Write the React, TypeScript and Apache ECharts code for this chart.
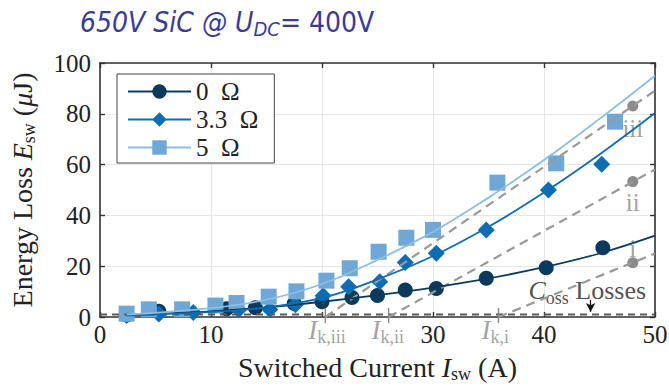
import React, { useEffect, useRef } from 'react';
import * as echarts from 'echarts';

// ---- data ----
const hiddenXTick = 20;

const current0 = [2.4, 5.3, 11.4, 14.0, 17.5, 20.0, 22.7, 25.0, 27.5, 30.3, 34.8, 40.2, 45.3];
const energy0 = [0.8, 2.3, 3.2, 3.6, 5.3, 6.0, 7.7, 8.5, 10.6, 11.2, 15.3, 19.4, 27.3];

const current33 = [2.4, 5.3, 8.4, 12.5, 15.3, 17.6, 20.1, 22.4, 25.2, 27.5, 30.3, 34.8, 40.4, 45.2];
const energy33 = [0.6, 1.2, 1.8, 2.9, 3.0, 4.8, 8.4, 11.9, 13.9, 21.5, 25.1, 34.3, 50.0, 60.1];

const current5 = [2.4, 4.4, 7.4, 10.4, 12.3, 15.2, 17.7, 20.4, 22.5, 25.1, 27.6, 30.0, 35.8, 41.1, 46.4];
const energy5 = [1.3, 3.0, 3.0, 4.5, 5.5, 8.0, 10.1, 14.3, 19.2, 25.7, 31.2, 34.3, 52.9, 60.5, 76.9];

const fitCurrent = [2.4, 10, 15, 20, 25, 30, 35, 40, 45, 50];
const fit0 = [0.8, 2.2, 3.8, 6.0, 8.6, 11.6, 15.2, 19.6, 25.0, 32.0];
const fit33 = [0.6, 2.0, 3.8, 7.5, 14.8, 24.0, 35.5, 49.0, 64.0, 80.3];
const fit5 = [1.0, 3.5, 6.8, 13.0, 22.5, 33.5, 47.0, 61.8, 78.0, 95.0];

const seriesNames = ['0 Ω', '3.3 Ω', '5 Ω'];

const kneeNames = ['i', 'ii', 'iii'];
const kneeSubs = ['k,i', 'k,ii', 'k,iii'];
const kneeCurrents = [35.9, 26.0, 20.3];
const tangentEndCurrent = 50;
const tangentEndEnergy = [25.0, 58.1, 89.1];
const dotCurrent = 48;
const dotEnergy = [21.4, 53.3, 83.1];
const romanLabelEnergy = [26.8, 45.0, 74.4];

const cossLevel = 1.0;
const cossLabelPos = [38.6, 10.6];
const arrowCurrent = 44.2;
const arrowFrom = 6.7;
const arrowTo = 2.0;

// ---- styles ----
const SERIF = '"Liberation Serif", "Times New Roman", serif';
const SANS = '"Liberation Sans Narrow", "DejaVu Sans Condensed", sans-serif';
const C0 = '#0b3a5c';
const C33 = '#0d6db3';
const C5L = '#8dbee6';
const C5M = '#6fa7d6';
const GRAY = '#999999';
const axisColor = '#333333';
const TITLE = '#3a3a98';

const pairs = (xs: number[], ys: number[]) => xs.map((x, i) => [x, ys[i]]);

function buildOption(): any {
  const axisCommon = {
    type: 'value',
    axisLine: { show: true, onZero: false, lineStyle: { color: axisColor, width: 1.6 } },
    axisTick: { show: true, inside: true, length: 5, lineStyle: { color: axisColor, width: 1.4 } },
  };
  const nameRich = {
    n: { fontFamily: SERIF, fontSize: 28, color: '#222' },
    i: { fontFamily: SERIF, fontStyle: 'italic', fontSize: 28, color: '#222' },
    s: { fontFamily: SERIF, fontSize: 18, color: '#222', padding: [13, 0, 0, 0] },
  };
  const series: any[] = [];

  series.push({
    type: 'line', name: 'coss', data: [[0, cossLevel], [50, cossLevel]], symbol: 'none', silent: true,
    lineStyle: { color: '#5a5a5a', width: 2, type: [7, 5] },
    markLine: {
      silent: true, symbol: ['none', 'arrow'], symbolSize: [7, 9], label: { show: false },
      lineStyle: { color: '#111', width: 1.2, type: 'solid' },
      data: [[{ coord: [arrowCurrent, arrowFrom] }, { coord: [arrowCurrent, arrowTo] }]],
    },
  });
  kneeCurrents.forEach((k, i) => {
    series.push({
      type: 'line', name: 'tan' + i, data: [[k, 0], [tangentEndCurrent, tangentEndEnergy[i]]], symbol: 'none', silent: true,
      lineStyle: { color: GRAY, width: 2.2, type: [9, 6] },
    });
    series.push({
      type: 'line', name: 'ktick' + i, data: [[k, -2.4], [k, 3.5]], symbol: 'none', silent: true, clip: false,
      lineStyle: { color: '#888', width: 1.4 },
    });
  });
  series.push({
    type: 'scatter', name: 'dots', data: dotEnergy.map((e) => [dotCurrent, e]), symbol: 'circle', symbolSize: 11,
    itemStyle: { color: '#6e6e6e' }, silent: true,
  });
  series.push({
    type: 'scatter', name: 'roman', symbolSize: 0, silent: true,
    data: kneeNames.map((n, i) => ({ name: n, value: [dotCurrent, romanLabelEnergy[i]] })),
    label: { show: true, position: 'inside', formatter: '{b}', fontFamily: SERIF, fontSize: 25, color: '#888' },
  });
  series.push({
    type: 'scatter', name: 'knees', symbolSize: 0, silent: true, clip: false,
    data: kneeSubs.map((s, i) => ({ name: s, value: [kneeCurrents[i], -5.0] })),
    label: {
      show: true, position: 'inside', align: 'left', offset: [-17, 0],
      formatter: (p: any) => '{i|I}{s|' + p.name + '}',
      rich: {
        i: { fontFamily: SERIF, fontStyle: 'italic', fontSize: 27, color: '#8a8a8a' },
        s: { fontFamily: SERIF, fontSize: 18, color: '#8a8a8a', padding: [15, 0, 0, 0] },
      },
    },
  });
  series.push({
    type: 'scatter', name: 'cossLabel', symbolSize: 0, silent: true,
    data: [cossLabelPos],
    label: {
      show: true, position: 'right', distance: 0,
      formatter: '{c|C}{s|oss}{n| Losses}',
      rich: {
        c: { fontFamily: SERIF, fontStyle: 'italic', fontSize: 26, color: '#222' },
        s: { fontFamily: SERIF, fontSize: 18, color: '#222', padding: [15, 0, 0, 0] },
        n: { fontFamily: SERIF, fontSize: 26, color: '#222' },
      },
    },
  });
  const fits = [fit0, fit33, fit5];
  const lineColors = [C0, C33, C5L];
  const markColors = [C0, C33, C5M];
  const symbols = ['circle', 'diamond', 'rect'];
  fits.forEach((f, i) => {
    series.push({
      type: 'line', name: seriesNames[i], data: pairs(fitCurrent, f), smooth: 0.4, showSymbol: false,
      symbol: symbols[i], silent: true,
      lineStyle: { color: lineColors[i], width: 1.8 },
      itemStyle: { color: markColors[i] },
    });
  });
  const xs = [current0, current33, current5];
  const ys = [energy0, energy33, energy5];
  const sizes = [15, 17, 16];
  xs.forEach((x, i) => {
    series.push({
      type: 'scatter', name: seriesNames[i] + ' pts', data: pairs(x, ys[i]), symbol: symbols[i], symbolSize: sizes[i],
      itemStyle: { color: markColors[i], opacity: 1 }, silent: true,
    });
  });

  return {
    animation: false,
    backgroundColor: '#ffffff',
    grid: { left: 100, right: 14, top: 63, bottom: 69, containLabel: false, outerBoundsMode: 'none' },
    legend: {
      data: seriesNames, orient: 'vertical', left: 117, top: 74, selectedMode: false,
      itemWidth: 63, itemHeight: 18, itemGap: 3, padding: [5, 16, 3, 10],
      borderColor: '#444', borderWidth: 1, backgroundColor: '#fff',
      formatter: (name: string) => name.replace(' ', '\u00a0\u00a0'),
      textStyle: { fontFamily: SERIF, fontSize: 25, color: '#222', lineHeight: 24 },
    },
    xAxis: [
      {
        ...axisCommon, min: 0, max: 50, interval: 10, position: 'bottom',
        axisLabel: { formatter: (v: number) => (v === hiddenXTick ? '' : String(v)), fontFamily: SERIF, fontSize: 25, color: '#222', margin: 5 },
        splitLine: { show: true, lineStyle: { color: '#e6e6e6', width: 1 } },
        name: '{n|Switched Current }{i|I}{s|sw}{n| (A)}', nameLocation: 'middle', nameGap: 35,
        nameTextStyle: { rich: nameRich },
      },
      { ...axisCommon, min: 0, max: 50, interval: 10, position: 'top', axisLabel: { show: false }, splitLine: { show: false } },
    ],
    yAxis: [
      {
        ...axisCommon, min: 0, max: 100, interval: 20, position: 'left',
        axisLabel: { fontFamily: SERIF, fontSize: 25, color: '#222', margin: 9 },
        splitLine: { show: true, lineStyle: { color: '#e6e6e6', width: 1 } },
        name: '{n|Energy Loss }{i|E}{s|sw}{n| (}{i|μ}{n|J)}', nameLocation: 'middle', nameGap: 62, nameRotate: 90,
        nameTextStyle: { rich: nameRich },
      },
      { ...axisCommon, min: 0, max: 100, interval: 20, position: 'right', axisLabel: { show: false }, splitLine: { show: false } },
    ],
    graphic: [
      {
        type: 'text', left: 80, top: 8, silent: true,
        style: {
          text: '{a|650V SiC @ U}{s|DC}{b|= 400V}',
          rich: {
            a: { fontFamily: SANS, fontStyle: 'italic', fontSize: 28, fill: TITLE },
            s: { fontFamily: SANS, fontStyle: 'italic', fontSize: 20, fill: TITLE, padding: [14, 0, 0, 0] },
            b: { fontFamily: SANS, fontSize: 28, fill: TITLE },
          },
        },
      },
    ],
    series,
  };
}

export default function App() {
  const ref = useRef<HTMLDivElement>(null);
  useEffect(() => {
    const chart = echarts.init(ref.current!, null, { renderer: 'svg' });
    chart.setOption(buildOption());
    return () => chart.dispose();
  }, []);
  return <div ref={ref} style={{ position: 'fixed', left: 0, top: 0, width: 669, height: 386 }} />;
}
